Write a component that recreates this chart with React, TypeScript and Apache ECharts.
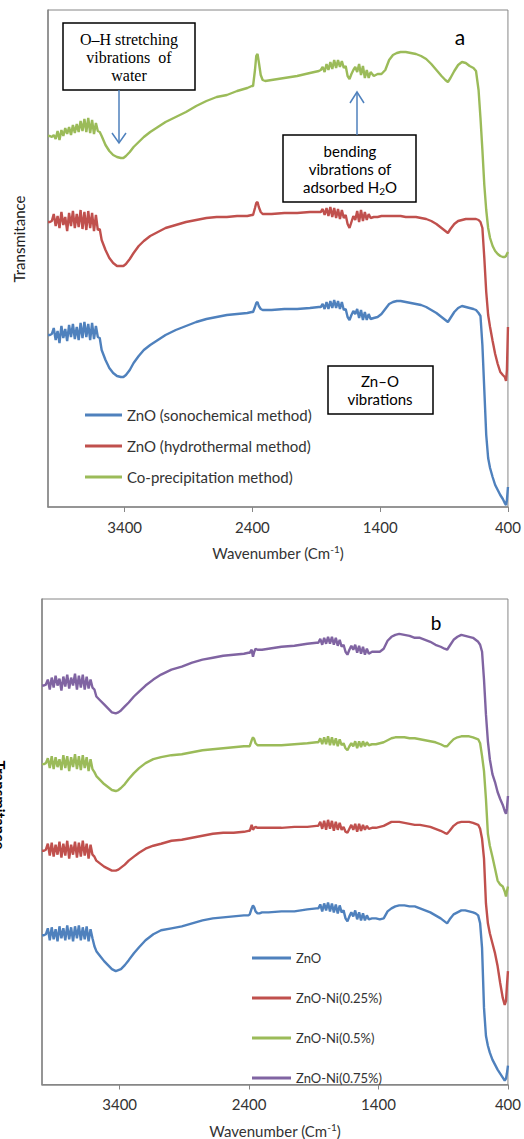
import React, { useEffect, useRef } from "react";
import * as echarts from "echarts";

// Shared wavenumber grid (cm-1)
const wavenumbers = [
  4000, 3985, 3970, 3955, 3940, 3925, 3910, 3895, 3880, 3865, 3850, 3835, 3820, 3805, 3790, 3775, 3760, 3745, 3730, 3715, 3700, 3685, 3670, 3655, 3640, 3625, 3610, 3595,
  3580, 3550, 3520, 3490, 3460, 3430, 3410, 3390, 3360, 3330, 3290, 3250, 3200, 3140, 3080, 3000, 2920, 2840, 2760, 2680, 2600, 2520, 2440, 2405,
  2395, 2380, 2370, 2360, 2350, 2335, 2320, 2300,
  2250, 2150, 2050, 1950, 1880,
  1865, 1850, 1835, 1820, 1805, 1790, 1775, 1760, 1745, 1730, 1715, 1700, 1685, 1670, 1655, 1640, 1625, 1610, 1595, 1580, 1565, 1550, 1535, 1520, 1505, 1490, 1475,
  1450, 1420, 1390, 1360, 1330, 1300, 1270, 1240, 1200, 1160, 1120, 1080, 1040, 1000, 960, 920, 890, 870, 850, 820, 790, 760, 730, 700, 670, 650, 630,
  615, 600, 585, 570, 555, 540, 520, 500, 480, 460, 440, 425, 415, 408, 400,
];

const tickValues = [400, 1400, 2400, 3400];

// Panel a (transmittance, arbitrary offset units)
const sonochemical = [
  172, 172, 173, 179, 167, 176, 164, 181, 169, 178, 166, 182, 170, 183, 168, 180, 167, 184, 169, 185, 170, 183, 167, 184, 168, 181, 170, 169,
  157, 147, 139, 134, 131, 130, 130, 132, 137, 144, 151, 157, 162, 167, 172, 177, 181, 185, 188, 190, 192, 193, 194, 195,
  195, 200, 204, 205, 201, 198, 197, 197,
  197, 198, 198, 199, 200,
  200, 203, 198, 205, 198, 206, 199, 207, 199, 206, 198, 205, 197, 198, 190, 187, 192, 196, 193, 198, 189, 197, 187, 195, 187, 193, 188,
  189, 190, 193, 198, 203, 205, 206, 206, 205, 204, 203, 202, 200, 197, 194, 190, 187, 185, 189, 195, 199, 201, 200, 199, 198, 197, 194,
  191, 162, 117, 72, 49, 39, 30, 22, 17, 12, 8, 4, 2, 7, 20,
];
const hydrothermal = [
  285, 285, 286, 293, 281, 291, 279, 295, 282, 290, 276, 294, 281, 296, 279, 293, 280, 297, 278, 295, 277, 296, 279, 294, 276, 292, 277, 278,
  267, 257, 249, 244, 241, 241, 241, 243, 248, 254, 261, 266, 271, 275, 279, 282, 285, 287, 289, 290, 290, 291, 291, 292,
  292, 299, 304, 305, 300, 295, 293, 293,
  293, 294, 294, 295, 295,
  295, 298, 292, 299, 291, 300, 290, 299, 289, 298, 288, 297, 289, 292, 283, 279, 285, 291, 287, 296, 285, 297, 286, 295, 287, 293, 289,
  290, 290, 291, 291, 291, 291, 291, 291, 290, 290, 290, 289, 288, 286, 283, 279, 276, 274, 278, 283, 286, 287, 288, 288, 288, 288, 287,
  285, 279, 249, 215, 192, 180, 166, 153, 143, 135, 132, 130, 126, 137, 180,
];
const coprecipitation = [
  371, 371, 370, 372, 368, 376, 367, 377, 371, 379, 373, 380, 372, 382, 374, 383, 375, 386, 376, 388, 375, 389, 374, 387, 373, 384, 376, 375,
  371, 362, 356, 352, 350, 349, 349, 351, 355, 360, 365, 370, 375, 380, 385, 390, 395, 401, 406, 410, 412, 416, 419, 421,
  421, 437, 451, 453, 445, 432, 427, 426,
  427, 429, 431, 434, 436,
  437, 440, 435, 443, 437, 445, 438, 447, 439, 447, 440, 446, 439, 441, 431, 428, 433, 437, 440, 435, 443, 432, 441, 429, 437, 429, 435,
  431, 433, 433, 437, 447, 452, 454, 455, 455, 454, 453, 451, 448, 443, 437, 431, 427, 425, 429, 436, 442, 445, 444, 441, 439, 436, 417,
  389, 357, 322, 297, 279, 269, 261, 256, 253, 251, 250, 250, 251, 253, 255,
];

// Panel b
const znO = [
  150, 150, 151, 157, 145, 158, 146, 156, 144, 159, 147, 157, 145, 160, 146, 158, 144, 159, 147, 160, 145, 158, 146, 159, 144, 156, 147, 139,
  134, 129, 124, 120, 116, 114, 115, 116, 120, 125, 132, 138, 145, 151, 155, 157, 159, 162, 165, 167, 168, 169, 170, 170,
  171, 177, 180, 178, 174, 172, 172, 173,
  173, 174, 174, 176, 177,
  177, 181, 174, 182, 175, 183, 174, 182, 173, 181, 172, 180, 173, 175, 167, 164, 169, 173, 169, 175, 166, 173, 165, 172, 165, 170, 166,
  167, 167, 166, 167, 174, 177, 179, 180, 180, 179, 179, 177, 175, 173, 170, 167, 164, 162, 166, 171, 173, 175, 175, 174, 173, 172, 170,
  162, 137, 77, 49, 39, 32, 25, 20, 15, 11, 7, 4, 6, 11, 19,
];
const ni025 = [
  235, 235, 236, 242, 230, 243, 229, 241, 231, 244, 228, 242, 230, 245, 227, 241, 231, 244, 228, 243, 229, 245, 230, 242, 227, 241, 231, 229,
  225, 222, 219, 217, 215, 215, 216, 218, 221, 225, 229, 233, 237, 240, 242, 245, 246, 248, 250, 252, 253, 253, 254, 255,
  255, 261, 256, 258, 259, 258, 258, 258,
  258, 258, 259, 259, 260,
  260, 264, 257, 265, 256, 266, 257, 265, 255, 264, 256, 263, 256, 259, 254, 253, 257, 261, 256, 262, 254, 262, 255, 261, 256, 260, 257,
  258, 258, 259, 260, 262, 264, 264, 264, 263, 262, 261, 261, 260, 259, 257, 255, 253, 252, 255, 260, 263, 264, 264, 264, 263, 262, 261,
  257, 247, 227, 182, 162, 152, 142, 132, 119, 102, 87, 80, 84, 99, 114,
];
const ni05 = [
  322, 322, 323, 328, 318, 330, 317, 329, 319, 327, 316, 331, 318, 330, 315, 329, 319, 332, 317, 330, 316, 331, 318, 329, 315, 327, 317, 314,
  310, 306, 302, 299, 296, 295, 296, 298, 302, 307, 313, 318, 323, 327, 329, 331, 332, 334, 336, 337, 338, 339, 340, 340,
  340, 346, 349, 347, 343, 341, 341, 341,
  341, 341, 342, 343, 344,
  344, 348, 342, 349, 342, 350, 341, 349, 341, 348, 340, 347, 341, 343, 338, 336, 340, 343, 340, 345, 338, 345, 339, 345, 340, 344, 341,
  342, 342, 343, 344, 346, 348, 349, 349, 349, 348, 348, 347, 346, 345, 344, 342, 340, 340, 343, 347, 349, 350, 350, 350, 349, 348, 347,
  343, 330, 315, 287, 252, 240, 229, 217, 205, 201, 199, 194, 189, 194, 199,
];
const ni075 = [
  401, 401, 402, 407, 397, 409, 399, 411, 401, 408, 396, 410, 400, 412, 398, 409, 401, 413, 397, 411, 399, 412, 397, 410, 398, 407, 399, 397,
  390, 386, 382, 378, 374, 373, 374, 376, 380, 384, 390, 395, 401, 407, 412, 417, 420, 424, 427, 429, 431, 432, 433, 434,
  434, 437, 430, 435, 438, 437, 437, 437,
  438, 440, 441, 443, 444,
  444, 448, 442, 449, 443, 450, 443, 450, 442, 449, 441, 447, 440, 442, 435, 432, 437, 441, 437, 442, 434, 441, 433, 440, 432, 438, 433,
  435, 435, 435, 438, 446, 450, 452, 453, 452, 451, 449, 449, 447, 445, 442, 440, 438, 437, 441, 447, 450, 452, 451, 450, 449, 447, 445,
  442, 435, 407, 372, 345, 327, 312, 304, 294, 287, 281, 275, 272, 277, 290,
];

const topNames = ["ZnO (sonochemical method)", "ZnO (hydrothermal method)", "Co-precipitation method)"];
const bottomNames = ["ZnO", "ZnO-Ni(0.25%)", "ZnO-Ni(0.5%)", "ZnO-Ni(0.75%)"];

const BLUE = "#4F81BD";
const RED = "#C0504D";
const GREEN = "#9BBB59";
const PURPLE = "#8064A2";
const GREY = "#868686";
const TXT = "#333333";
const FONT = "Lato, 'Open Sans', sans-serif";
const SERIF = "'Liberation Serif', 'Times New Roman', serif";

const pair = (vals: number[]) => wavenumbers.map((w, i) => [w, vals[i]]);

function xAxis(gridIndex: number) {
  return {
    type: "value",
    gridIndex,
    min: 400,
    max: 4000,
    inverse: true,
    axisLine: { show: true, lineStyle: { color: GREY, width: 1.5 } },
    axisTick: { show: true, length: 5, inside: false, customValues: tickValues, lineStyle: { color: GREY, width: 1 } },
    axisLabel: {
      customValues: tickValues,
      margin: 12,
      fontSize: 15,
      color: TXT,
      fontFamily: FONT,
      formatter: (v: number) => String(v),
    },
    splitLine: { show: false },
    name: "{a|Wavenumber (Cm}{s|-1}{a|)}",
    nameLocation: "middle",
    nameGap: 37,
    nameTextStyle: {
      rich: {
        a: { fontSize: 15, fontFamily: FONT, color: TXT },
        s: { fontSize: 10, fontFamily: FONT, color: TXT, padding: [0, 0, 8, 0] },
      },
    },
  };
}

function yAxis(gridIndex: number, max: number) {
  return {
    type: "value",
    gridIndex,
    min: 0,
    max,
    axisLine: { show: true, lineStyle: { color: GREY, width: 1.5 } },
    axisTick: { show: false },
    axisLabel: { show: false },
    splitLine: { show: false },
  };
}

function line(name: string, color: string, vals: number[], idx: number) {
  return {
    type: "line",
    name,
    xAxisIndex: idx,
    yAxisIndex: idx,
    data: pair(vals),
    symbol: "none",
    color,
    lineStyle: { color, width: 2.4 },
  };
}

const textStyle = (extra: any) => ({ fill: "#000", align: "center", verticalAlign: "middle", textAlign: "center", textVerticalAlign: "middle", ...extra });

export default function App() {
  const ref = useRef<HTMLDivElement>(null);
  useEffect(() => {
    document.body.style.margin = "0";
    const chart = echarts.init(ref.current!, null, { renderer: "svg" });
    const option: any = {
      animation: false,
      backgroundColor: "#ffffff",
      grid: [
        { left: 48, top: 10, width: 460, height: 497, show: true, borderColor: GREY, borderWidth: 1 },
        { left: 42, top: 599, width: 472, height: 488, show: true, borderColor: GREY, borderWidth: 1 },
      ],
      xAxis: [xAxis(0), xAxis(1)],
      yAxis: [yAxis(0, 497), yAxis(1, 488)],
      legend: [
        {
          data: topNames,
          orient: "vertical",
          left: 80,
          top: 401,
          icon: "rect",
          itemWidth: 37,
          itemHeight: 3,
          itemGap: 13,
          selectedMode: false,
          textStyle: { fontSize: 15, lineHeight: 18, fontFamily: FONT, color: TXT },
        },
        {
          data: bottomNames,
          orient: "vertical",
          left: 247,
          top: 945,
          icon: "rect",
          itemWidth: 39,
          itemHeight: 3,
          itemGap: 24,
          selectedMode: false,
          textStyle: { fontSize: 13, lineHeight: 16, fontFamily: FONT, color: TXT },
        },
      ],
      series: [
        line(topNames[0], BLUE, sonochemical, 0),
        line(topNames[1], RED, hydrothermal, 0),
        line(topNames[2], GREEN, coprecipitation, 0),
        line(bottomNames[0], BLUE, znO, 1),
        line(bottomNames[1], RED, ni025, 1),
        line(bottomNames[2], GREEN, ni05, 1),
        line(bottomNames[3], PURPLE, ni075, 1),
      ],
      graphic: [
        { type: "text", x: 19, y: 239, rotation: Math.PI / 2, style: textStyle({ text: "Transmitance", fontSize: 15, fontFamily: FONT, fill: "#222" }) },
        { type: "text", x: 0, y: 805, rotation: -Math.PI / 2, style: textStyle({ text: "Transmitance", fontSize: 15, fontWeight: "bold", fontFamily: FONT, fill: "#000" }) },
        { type: "text", x: 460, y: 36, style: textStyle({ text: "a", fontSize: 21, fontFamily: FONT }) },
        { type: "text", x: 436, y: 622, style: textStyle({ text: "b", fontSize: 19, fontFamily: FONT }) },
        // O-H box
        { type: "rect", shape: { x: 63, y: 23, width: 132, height: 67 }, style: { fill: "#fff", stroke: "#000", lineWidth: 1.5 }, z: 10 },
        { type: "text", x: 129, y: 57, z: 11, style: textStyle({ text: "O\u2013H stretching\nvibrations  of\nwater", fontSize: 16, lineHeight: 18, fontFamily: SERIF }) },
        { type: "line", shape: { x1: 119, y1: 90, x2: 119, y2: 143 }, style: { stroke: BLUE, lineWidth: 1.5 }, z: 10 },
        { type: "polyline", shape: { points: [[112, 133], [119, 143], [126, 133]] }, style: { stroke: BLUE, lineWidth: 1.5, fill: "none" }, z: 10 },
        // bending box
        { type: "rect", shape: { x: 283, y: 135, width: 133, height: 67 }, style: { fill: "#fff", stroke: "#000", lineWidth: 1.5 }, z: 10 },
        {
          type: "text", x: 350, y: 169, z: 11,
          style: textStyle({
            text: "{n|bending}\n{n|vibrations of}\n{n|adsorbed H}{s|2}{n|O}",
            rich: {
              n: { fontSize: 15, lineHeight: 18, fontFamily: FONT, fill: "#000", color: "#000" },
              s: { fontSize: 10, lineHeight: 18, fontFamily: FONT, fill: "#000", color: "#000", padding: [7, 0, 0, 0] },
            },
          }),
        },
        { type: "line", shape: { x1: 357, y1: 135, x2: 357, y2: 92 }, style: { stroke: BLUE, lineWidth: 1.5 }, z: 10 },
        { type: "polyline", shape: { points: [[350, 103], [357, 92], [364, 103]] }, style: { stroke: BLUE, lineWidth: 1.5, fill: "none" }, z: 10 },
        // Zn-O box
        { type: "rect", shape: { x: 328, y: 366, width: 105, height: 48 }, style: { fill: "#fff", stroke: "#000", lineWidth: 1.5 }, z: 10 },
        { type: "text", x: 380, y: 390, z: 11, style: textStyle({ text: "Zn\u2013O\nvibrations", fontSize: 15, lineHeight: 18, fontFamily: FONT }) },
      ],
    };
    chart.setOption(option);
    return () => chart.dispose();
  }, []);
  return <div ref={ref} style={{ width: 524, height: 1139 }} />;
}
